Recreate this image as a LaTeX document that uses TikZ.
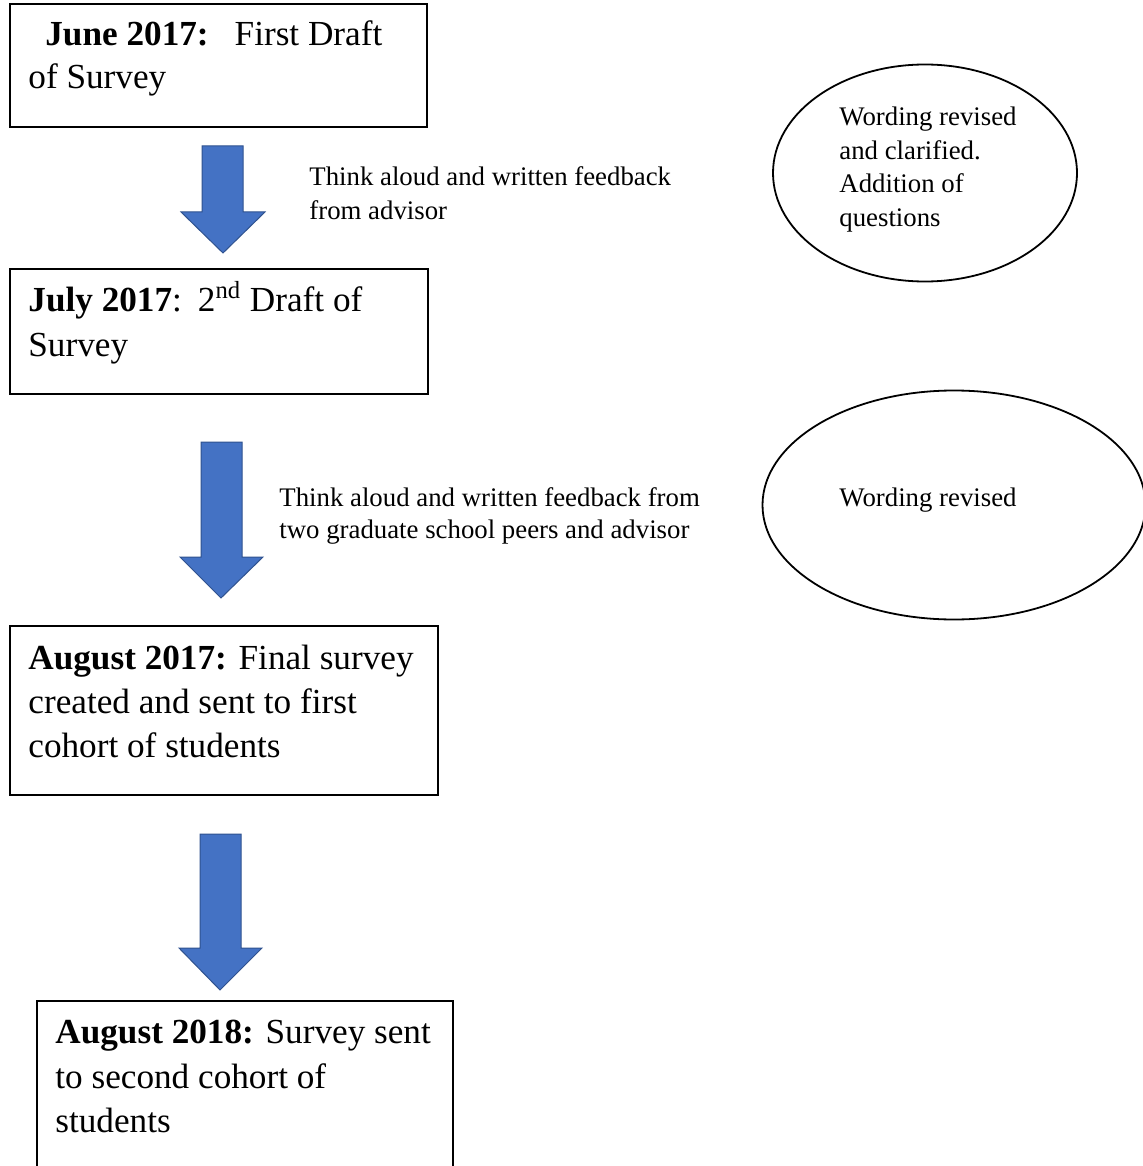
\documentclass[tikz,border=0pt]{standalone}
\usepackage{fontspec}
\setmainfont{Liberation Serif}
\usetikzlibrary{shapes.geometric,fit}
\definecolor{arrowblue}{HTML}{4472C4}
\definecolor{arrowedge}{HTML}{2F528F}
\begin{document}
\begin{tikzpicture}[x=0.5pt,y=-0.5pt,
  box/.style={draw=black, line width=1pt, inner sep=0pt},
  oval/.style={draw=black, line width=0.9pt, ellipse, inner sep=0pt},
  blockarrow/.style={fill=arrowblue, draw=arrowedge, line width=0.5pt},
  big/.style={anchor=base west, inner sep=0pt, font=\fontsize{17.6}{22}\selectfont},
  small/.style={anchor=base west, inner sep=0pt, font=\fontsize{13.4}{17}\selectfont}]
\useasboundingbox (0,0) rectangle (1143,1166);
\fill[white] (0,0) rectangle (1143,1166);

% boxes
\node[box, fit={(10,4) (427,127)}] (b1) {};
\node[box, fit={(10,269) (428,394)}] (b2) {};
\node[box, fit={(10,626) (438,795)}] (b3) {};
\node[box, fit={(37,1001) (453,1200)}] (b4) {};

% box texts
\node[big] (t1a) at (45,46) {\textbf{June 2017:}\hspace{13pt}First Draft};
\node[big] (t1b) at (28,89) {of Survey};
\node[big] (t2a) at (28,311) {\textbf{July 2017}:\hspace{8pt}2\textsuperscript{nd} Draft of};
\node[big] (t2b) at (28,356) {Survey};
\node[big] (t3a) at (28,669) {\textbf{August 2017:} Final survey};
\node[big] (t3b) at (28,713) {created and sent to first};
\node[big] (t3c) at (28,757) {cohort of students};
\node[big] (t4a) at (55,1043) {\textbf{August 2018:} Survey sent};
\node[big] (t4b) at (55,1088) {to second cohort of};
\node[big] (t4c) at (55,1132) {students};

% block arrows
\draw[blockarrow] (202,146) -- (243,146) -- (243,212) -- (265,212) -- (223,253) -- (181,212) -- (202,212) -- cycle;
\draw[blockarrow] (201,442) -- (242,442) -- (242,557) -- (263,557) -- (221,598) -- (180,557) -- (201,557) -- cycle;
\draw[blockarrow] (200,834) -- (241,834) -- (241,948) -- (262,948) -- (220,990) -- (179,948) -- (200,948) -- cycle;

% arrow labels
\node[small] (l1a) at (309,186) {Think aloud and written feedback};
\node[small] (l1b) at (309,220) {from advisor};
\node[small] (l2a) at (279,506) {Think aloud and written feedback from};
\node[small] (l2b) at (279,538) {two graduate school peers and advisor};

% ellipses
\node[oval, minimum width=152pt, minimum height=108.5pt] (e1) at (925,173) {};
\node[small] (e1a) at (839,126) {Wording revised};
\node[small] (e1b) at (839,160) {and clarified.};
\node[small] (e1c) at (839,193) {Addition of};
\node[small] (e1d) at (839,227) {questions};
\node[oval, minimum width=191.5pt, minimum height=114.5pt] (e2) at (954,505) {};
\node[small] (e2a) at (839,506) {Wording revised};
\end{tikzpicture}
\end{document}
